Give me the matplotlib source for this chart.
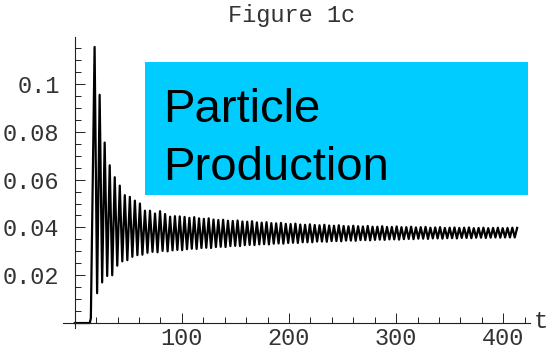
import numpy as np
import matplotlib
matplotlib.use("Agg")
import matplotlib.pyplot as plt
from matplotlib.patches import Rectangle
from matplotlib.ticker import FixedLocator, FixedFormatter, MultipleLocator

# Onset of production: flat at zero, then a sharp rise
onset_t = [0.0, 14.0, 15.0]
onset_v = [0.0, 0.0, 0.002]

# Times of successive maxima of the oscillation
peak_t = [18.5, 23.2, 27.9, 32.6, 37.3, 42.0, 46.7, 51.4, 56.1, 60.8, 65.5, 70.2,
          74.9, 79.6, 84.3, 89.0,
          93.5, 98.0, 102.5, 107.0, 111.5, 116.0, 120.5, 125.0, 129.5, 134.0,
          138.5, 143.0, 147.5, 152.0, 156.5, 161.0, 165.5, 170.0, 174.5, 179.0,
          183.5, 188.0, 192.5, 197.0, 201.5, 206.0, 210.5, 215.0, 219.5, 224.0,
          228.5, 233.0, 237.5, 242.0, 246.5, 251.0, 255.5, 260.0, 264.5, 269.0,
          273.5, 278.0, 282.5, 287.0, 291.5, 296.0, 300.5, 305.0, 309.5, 314.0,
          318.5, 323.0, 327.5, 332.0, 336.5, 341.0, 345.5, 350.0, 354.5, 359.0,
          363.5, 368.0, 372.5, 377.0, 381.5, 386.0, 390.5, 395.0, 399.5, 404.0, 408.5,
          413.0]

# Heights of those maxima
peak_v = [0.1155, 0.0955, 0.0755, 0.0660, 0.0610, 0.0575, 0.0535, 0.0528, 0.0512, 0.0500,
          0.0470, 0.0470, 0.0458, 0.0468, 0.0456, 0.0445,
          0.0447, 0.0446, 0.0444, 0.0440, 0.0443, 0.0438, 0.0436, 0.0438, 0.0433, 0.0431,
          0.0432, 0.0428, 0.0427, 0.0429, 0.0425, 0.0424, 0.0426, 0.0421, 0.0420, 0.0422,
          0.0418, 0.0417, 0.0419, 0.0415, 0.0414, 0.0416, 0.0412, 0.0411, 0.0413, 0.0410,
          0.0409, 0.0411, 0.0408, 0.0407, 0.0409, 0.0406, 0.0405, 0.0407, 0.0405, 0.0404,
          0.0406, 0.0403, 0.0403, 0.0405, 0.0402, 0.0402, 0.0404, 0.0401, 0.0401, 0.0403,
          0.0400, 0.0401, 0.0402, 0.0399, 0.0400, 0.0401, 0.0398, 0.0399, 0.0400, 0.0398,
          0.0399, 0.0400, 0.0397, 0.0398, 0.0399, 0.0397, 0.0398, 0.0399, 0.0397, 0.0398, 0.0399,
          0.0398]

# Depths of the minima lying between consecutive maxima
trough_v = [0.0125, 0.0170, 0.0197, 0.0200, 0.0240, 0.0258, 0.0263, 0.0277, 0.0284, 0.0286,
            0.0294, 0.0298, 0.0296, 0.0302, 0.0300,
            0.0304, 0.0306, 0.0305, 0.0309, 0.0311, 0.0310, 0.0314, 0.0315, 0.0314, 0.0318,
            0.0319, 0.0318, 0.0322, 0.0323, 0.0322, 0.0326, 0.0327, 0.0326, 0.0329, 0.0330,
            0.0329, 0.0332, 0.0333, 0.0332, 0.0335, 0.0336, 0.0335, 0.0338, 0.0338, 0.0338,
            0.0341, 0.0341, 0.0340, 0.0343, 0.0343, 0.0342, 0.0345, 0.0345, 0.0344, 0.0347,
            0.0347, 0.0346, 0.0348, 0.0349, 0.0348, 0.0350, 0.0350, 0.0349, 0.0351, 0.0352,
            0.0351, 0.0353, 0.0353, 0.0352, 0.0354, 0.0354, 0.0353, 0.0355, 0.0355, 0.0354,
            0.0356, 0.0356, 0.0355, 0.0357, 0.0357, 0.0356, 0.0357, 0.0358, 0.0357, 0.0358, 0.0358,
            0.0358]

x_ticks = [100, 200, 300, 400]
x_labels = ["100", "200", "300", "400"]
y_ticks = [0.02, 0.04, 0.06, 0.08, 0.1]
y_labels = ["0.02", "0.04", "0.06", "0.08", "0.1"]

# Assemble the curve: onset, then alternating maxima and minima
t_vals = list(onset_t)
v_vals = list(onset_v)
for i in range(len(peak_t)):
    t_vals.append(peak_t[i])
    v_vals.append(peak_v[i])
    if i < len(trough_v):
        t_vals.append(0.5 * (peak_t[i] + peak_t[i + 1]))
        v_vals.append(trough_v[i])

mono = "Liberation Mono"

fig = plt.figure(figsize=(5.5, 3.5), dpi=100)
ax = fig.add_axes([63 / 550, 1 - 328.3 / 350, (530 - 63) / 550, (328.3 - 37.4) / 350])

ax.plot(t_vals, v_vals, color="black", lw=1.6, solid_joinstyle="round")

ax.set_xlim(-11, 425)
ax.set_ylim(-0.0022, 0.1195)

for side in ("top", "right"):
    ax.spines[side].set_visible(False)
ax.spines["left"].set_position(("data", 0))
ax.spines["bottom"].set_position(("data", 0))
for side in ("left", "bottom"):
    ax.spines[side].set_linewidth(0.8)
    ax.spines[side].set_color("#222222")

ax.xaxis.set_major_locator(FixedLocator(x_ticks))
ax.xaxis.set_major_formatter(FixedFormatter(x_labels))
ax.xaxis.set_minor_locator(MultipleLocator(20))
ax.yaxis.set_major_locator(FixedLocator(y_ticks))
ax.yaxis.set_major_formatter(FixedFormatter(y_labels))
ax.yaxis.set_minor_locator(MultipleLocator(0.005))

ax.tick_params(which="both", direction="in", color="#222222", width=0.7)
ax.tick_params(which="major", length=7)
ax.tick_params(which="minor", length=4)
ax.tick_params(axis="x", which="major", pad=3)
ax.tick_params(axis="y", which="major", pad=11)
for lab in ax.get_xticklabels() + ax.get_yticklabels():
    lab.set_fontfamily(mono)
    lab.set_fontsize(17)
    lab.set_color("#333333")

fig.text(292 / 550, 1 - 22 / 350, "Figure 1c", family=mono, fontsize=17,
         color="#333333", ha="center", va="baseline")
fig.text(541 / 550, 1 - 321 / 350, "t", family=mono, fontsize=17,
         color="#333333", ha="center", va="center")

# Caption box
fig.patches.append(Rectangle((145 / 550, 1 - 195 / 350), (528 - 145) / 550, (195 - 62) / 350,
                             transform=fig.transFigure, facecolor="#00CCFF",
                             edgecolor="none", zorder=5))
fig.text(163 / 550, 1 - 122 / 350, "Particle", family="Liberation Sans", fontsize=34,
         color="black", ha="left", va="baseline", zorder=6)
fig.text(163 / 550, 1 - 180 / 350, "Production", family="Liberation Sans", fontsize=34,
         color="black", ha="left", va="baseline", zorder=6)

fig.savefig("out.png", dpi=100, facecolor="white")
